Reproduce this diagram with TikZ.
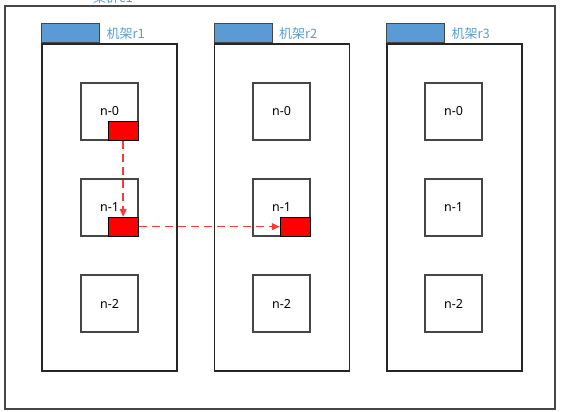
\documentclass[tikz,border=0pt]{standalone}
\usepackage{fontspec}
\setmainfont{Noto Sans}
\newfontfamily\cjk{Noto Sans CJK SC}
\usetikzlibrary{arrows.meta,positioning}
\definecolor{lblblue}{RGB}{91,155,213}
\definecolor{tabblue}{RGB}{91,155,213}
\definecolor{edgegray}{RGB}{70,70,70}
\definecolor{arrowred}{RGB}{255,55,55}
\begin{document}
\begin{tikzpicture}[x=1pt,y=-1pt,
  cluster/.style={draw=edgegray,line width=1.4pt,minimum width=550pt,minimum height=403pt,inner sep=0pt},
  rack/.style={draw=black!85,line width=1.1pt,minimum width=135pt,minimum height=327pt,inner sep=0pt},
  tab/.style={draw=edgegray,fill=tabblue,line width=1pt,minimum width=58pt,minimum height=19pt,inner sep=0pt,anchor=south west},
  lbl/.style={text=lblblue,font=\cjk\fontsize{13}{15}\selectfont,inner sep=0pt},
  srv/.style={draw=edgegray,line width=1.1pt,minimum width=57pt,minimum height=57pt,inner sep=0pt,font=\fontsize{12.5}{14}\selectfont},
  part/.style={draw=black,fill=red,line width=0.8pt,minimum width=30pt,minimum height=19pt,inner sep=0pt,anchor=south east},
  flow/.style={draw=arrowred,line width=1.4pt,dash pattern=on 8pt off 5pt,-{Triangle[length=8pt,width=7pt]}}
]
\useasboundingbox (0,0) rectangle (563,412);
\begin{scope}
\clip (0,0) rectangle (563,412);
\node[lbl] (title) at (113,-2) {集群c1};
\end{scope}
\node[cluster] (c1) at (280,207.5) {};
% racks
\node[rack] (rk1) at (109.5,207.5) {};
\node[rack] (rk2) at (282,207.5) {};
\node[rack] (rk3) at (454.5,207.5) {};
\node[tab] (t1) at (rk1.north west) {};
\node[tab] (t2) at (rk2.north west) {};
\node[tab] (t3) at (rk3.north west) {};
\node[lbl,anchor=west] (l1) at ([xshift=6pt]t1.east) {机架r1};
\node[lbl,anchor=west] (l2) at ([xshift=6pt]t2.east) {机架r2};
\node[lbl,anchor=west] (l3) at ([xshift=6pt]t3.east) {机架r3};
% servers
\node[srv] (a0) at (109.5,111.5) {n-0};
\node[srv] (a1) at (109.5,207.5) {n-1};
\node[srv] (a2) at (109.5,303.5) {n-2};
\node[srv] (b0) at (281.5,111.5) {n-0};
\node[srv] (b1) at (281.5,207.5) {n-1};
\node[srv] (b2) at (281.5,303.5) {n-2};
\node[srv] (c0) at (453.5,111.5) {n-0};
\node[srv] (c1n) at (453.5,207.5) {n-1};
\node[srv] (c2) at (453.5,303.5) {n-2};
% partitions
\node[part] (p0) at (a0.south east) {};
\node[part] (p1) at (a1.south east) {};
\node[part] (p2) at (b1.south east) {};
\draw[flow] (p0.south) -- (p1.north);
\draw[flow] (p1.east) -- (p2.west);
\end{tikzpicture}
\end{document}
